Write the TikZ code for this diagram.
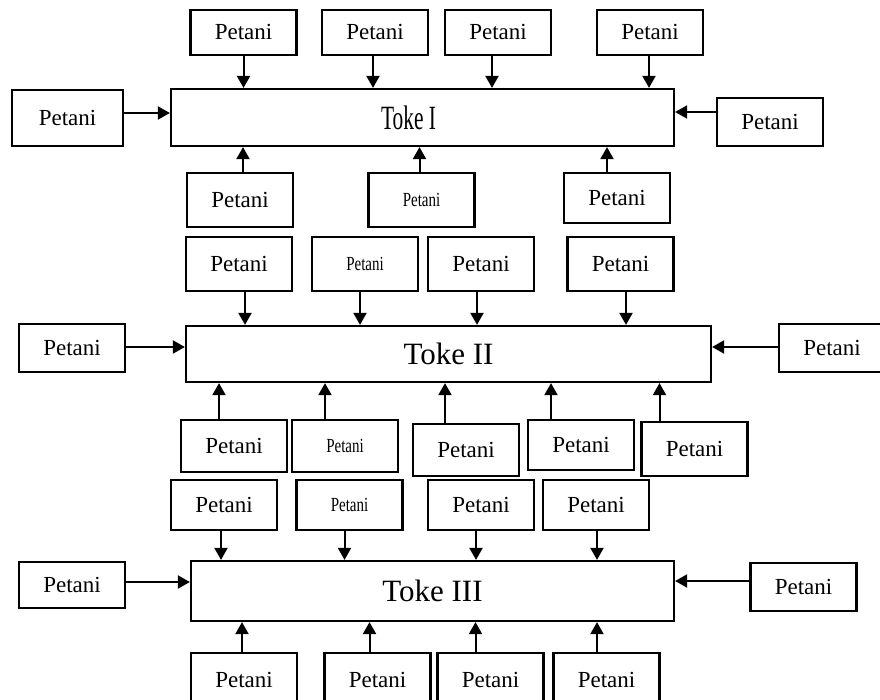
\documentclass[tikz,border=0pt]{standalone}
\usepackage{fontspec}
\setmainfont{Liberation Serif}
\usepackage{graphicx}
\usetikzlibrary{arrows.meta}
\newcommand{\petanikecil}{\scalebox{0.75}[1]{\fontsize{20}{24}\selectfont Petani}}

\begin{document}
\begin{tikzpicture}[x=1pt, y=-1pt,
    petani/.style={draw, line width=2.2pt, minimum width=106pt, minimum height=54pt, inner sep=0pt, font=\fontsize{23}{28}\selectfont},
    toke/.style={draw, line width=2.2pt, inner sep=0pt},
    pijl/.style={line width=2pt, -{Triangle[width=13pt,length=12pt]}}]
    \useasboundingbox (0,0) rectangle (880,700);
    \clip (0,0) rectangle (880,700);

    % Toke I
    \node [toke, minimum width=503pt, minimum height=57pt] (toke1) at (422.5,117.5) {\hspace*{-28pt}\scalebox{0.63}[1]{\fontsize{34}{40}\selectfont Toke I}};
    \node [petani, minimum height=45pt] (t1a) at (243.5,32.5) {Petani};
    \node [petani, minimum height=45pt] (t1b) at (375,32.5) {Petani};
    \node [petani, minimum height=45pt] (t1c) at (498,32.5) {Petani};
    \node [petani, minimum height=45pt] (t1d) at (650,32.5) {Petani};
    \node [petani, minimum width=111pt, minimum height=56pt] (l1) at (67.5,118) {Petani};
    \node [petani, minimum height=48pt] (r1) at (770,122) {Petani};
    \node [petani] (b1a) at (240,200) {Petani};
    \node [petani] (b1b) at (421.5,200) {\petanikecil};
    \node [petani, minimum height=50pt] (b1c) at (617,198) {Petani};
    \foreach \n/\dx in {t1a/0, t1b/-2, t1c/-6, t1d/-1}
        \draw [pijl] ([xshift=\dx pt]\n.south) -- ([xshift=\dx pt]\n.south |- toke1.north);
    \foreach \n/\dx in {b1a/3, b1b/-2, b1c/-10}
        \draw [pijl] ([xshift=\dx pt]\n.north) -- ([xshift=\dx pt]\n.north |- toke1.south);
    \draw [pijl] ([yshift=5pt]l1.east) -- ([yshift=5pt]l1.east -| toke1.west);
    \draw [pijl] ([yshift=10pt]r1.west) -- ([yshift=10pt]r1.west -| toke1.east);

    % Toke II
    \node [toke, minimum width=525pt, minimum height=56pt] (toke2) at (448.5,354) {\fontsize{31}{36}\selectfont Toke II};
    \node [petani] (t2a) at (239,264) {Petani};
    \node [petani] (t2b) at (365,264) {\petanikecil};
    \node [petani] (t2c) at (481,264) {Petani};
    \node [petani] (t2d) at (620.5,264) {Petani};
    \node [petani, minimum height=48pt] (l2) at (72,348) {Petani};
    \node [petani, minimum height=48pt] (r2) at (832,348) {Petani};
    \node [petani, minimum height=52pt] (b2a) at (234,446) {Petani};
    \node [petani, minimum height=52pt] (b2b) at (345,446) {\petanikecil};
    \node [petani, minimum height=52pt] (b2c) at (466,450) {Petani};
    \node [petani, minimum height=50pt] (b2d) at (581,445) {Petani};
    \node [petani, minimum height=54pt] (b2e) at (694.5,449) {Petani};
    \foreach \n/\dx in {t2a/6, t2b/-5, t2c/-4, t2d/5.5}
        \draw [pijl] ([xshift=\dx pt]\n.south) -- ([xshift=\dx pt]\n.south |- toke2.north);
    \foreach \n/\dx in {b2a/-15, b2b/-20, b2c/-21, b2d/-30, b2e/-35}
        \draw [pijl] ([xshift=\dx pt]\n.north) -- ([xshift=\dx pt]\n.north |- toke2.south);
    \draw [pijl] ([yshift=1pt]l2.east) -- ([yshift=1pt]l2.east -| toke2.west);
    \draw [pijl] ([yshift=1pt]r2.west) -- ([yshift=1pt]r2.west -| toke2.east);

    % Toke III
    \node [toke, minimum width=483pt, minimum height=60pt] (toke3) at (432.5,591) {\fontsize{31}{36}\selectfont Toke III};
    \node [petani, minimum height=50pt] (t3a) at (224,505) {Petani};
    \node [petani, minimum height=50pt] (t3b) at (349.5,505) {\petanikecil};
    \node [petani, minimum height=50pt] (t3c) at (481,505) {Petani};
    \node [petani, minimum height=50pt] (t3d) at (596,505) {Petani};
    \node [petani, minimum height=46pt] (l3) at (72,585) {Petani};
    \node [petani, minimum height=48pt] (r3) at (803.5,587) {Petani};
    \node [petani] (b3a) at (244,680) {Petani};
    \node [petani] (b3b) at (377.5,680) {Petani};
    \node [petani] (b3c) at (490.5,680) {Petani};
    \node [petani] (b3d) at (606.5,680) {Petani};
    \foreach \n/\dx in {t3a/-3, t3b/-5, t3c/-5, t3d/1}
        \draw [pijl] ([xshift=\dx pt]\n.south) -- ([xshift=\dx pt]\n.south |- toke3.north);
    \foreach \n/\dx in {b3a/-2, b3b/-8, b3c/-15, b3d/-9.5}
        \draw [pijl] ([xshift=\dx pt]\n.north) -- ([xshift=\dx pt]\n.north |- toke3.south);
    \draw [pijl] ([yshift=3pt]l3.east) -- ([yshift=3pt]l3.east -| toke3.west);
    \draw [pijl] ([yshift=6pt]r3.west) -- ([yshift=6pt]r3.west -| toke3.east);
\end{tikzpicture}
\end{document}
